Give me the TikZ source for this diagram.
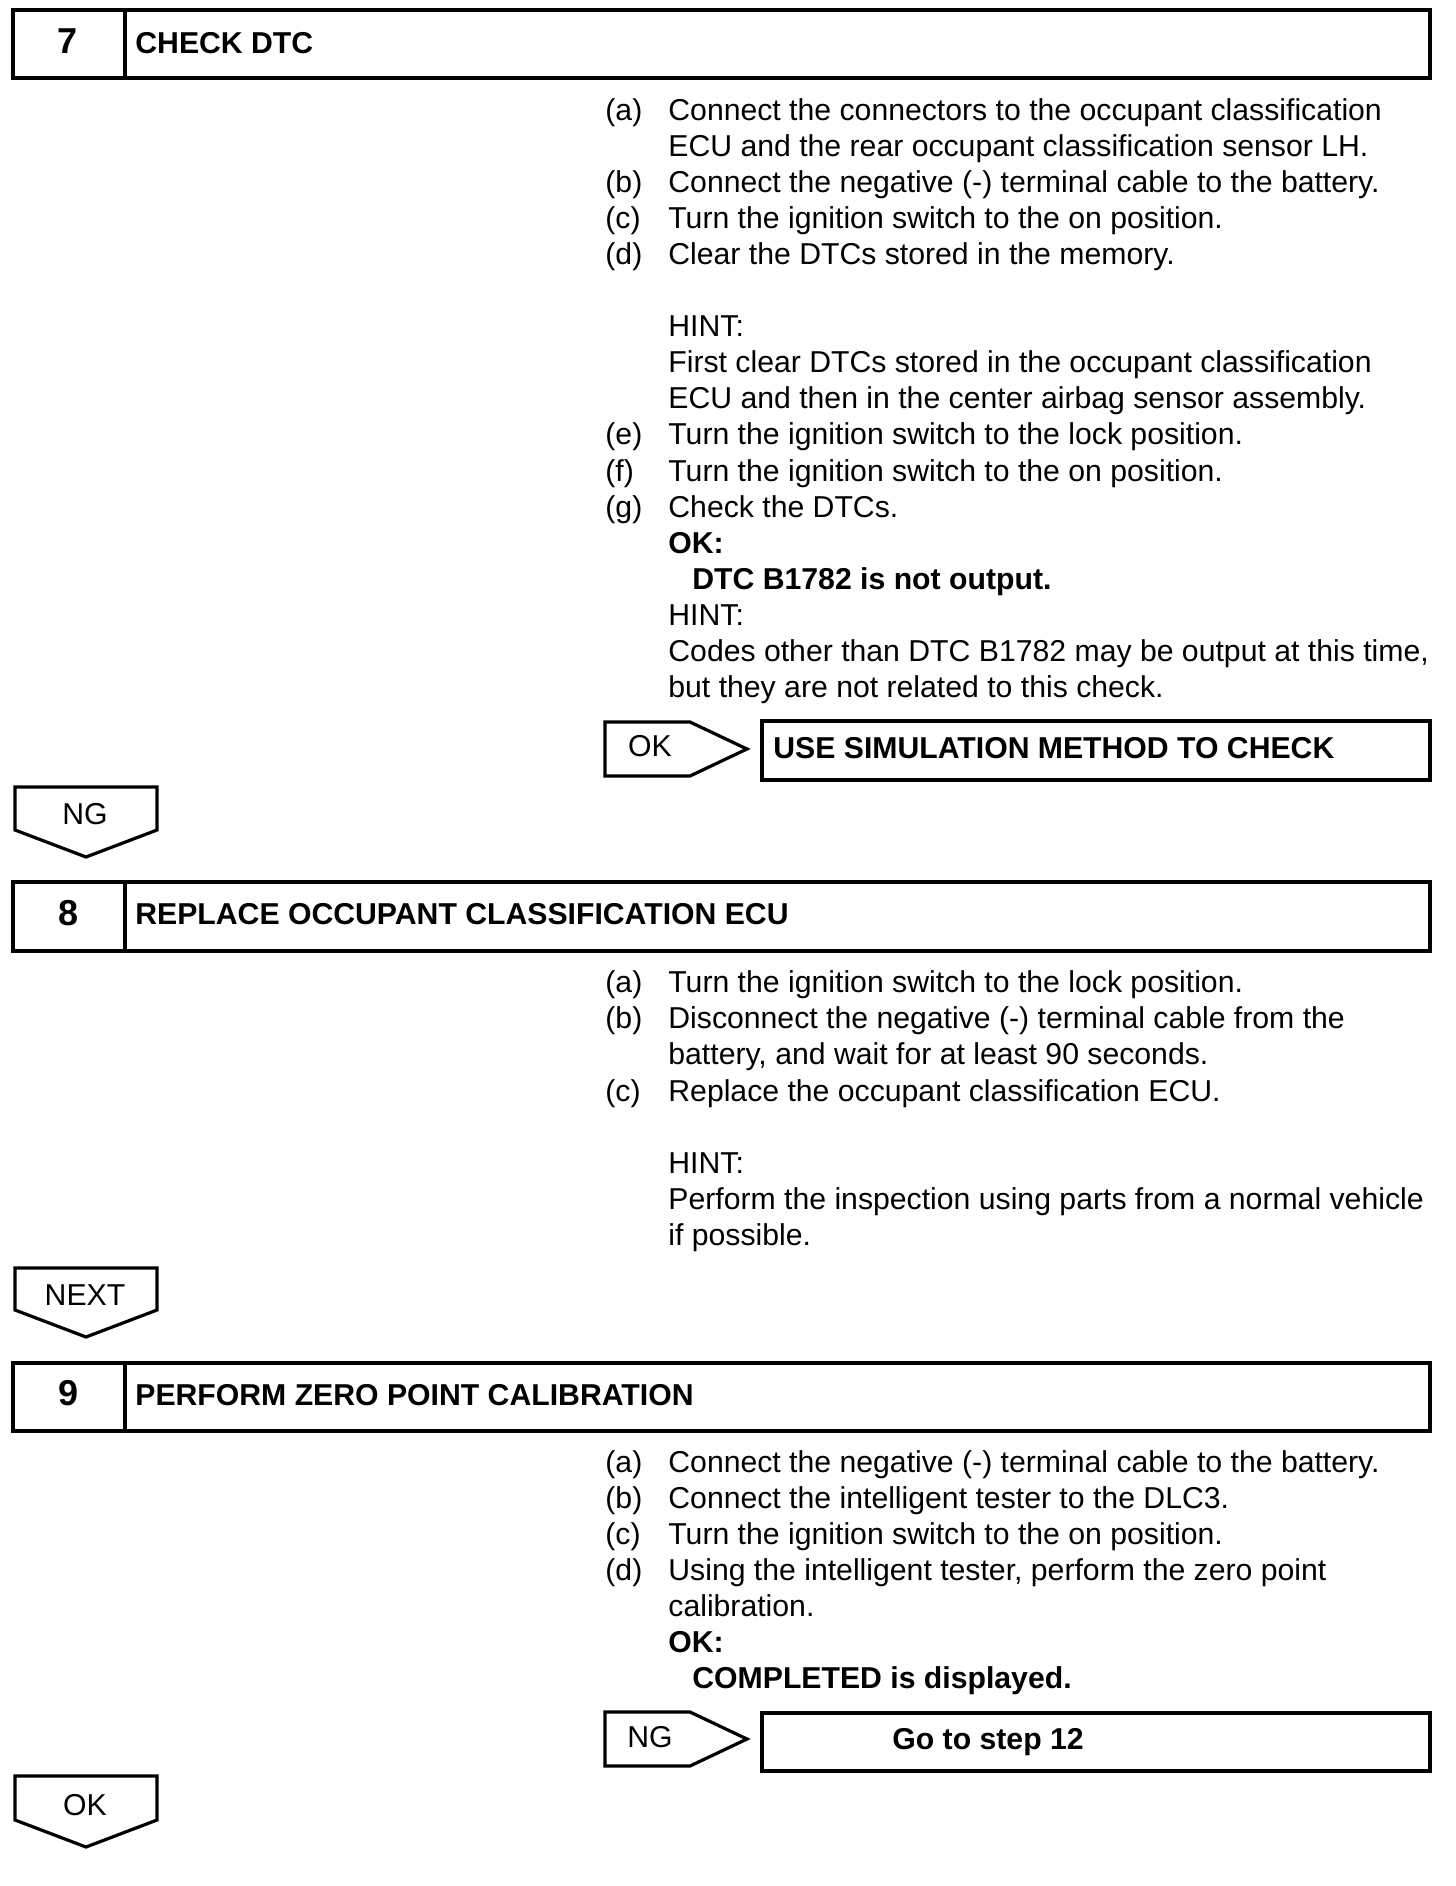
\documentclass[tikz,border=0pt]{standalone}
\usepackage{fontspec}
\setmainfont{Liberation Sans}
\begin{document}
\begin{tikzpicture}[x=0.5pt,y=-0.5pt,
  frame/.style={line width=1.8pt, line join=miter},
  pent/.style={line width=1.6pt, line join=miter},
  txt/.style={inner sep=0pt, anchor=base west, font=\fontsize{15.1}{18}\selectfont},
  btxt/.style={txt, font=\fontsize{15.1}{18}\selectfont\bfseries},
  numtxt/.style={inner sep=0pt, anchor=center, font=\fontsize{18}{21}\selectfont\bfseries},
  hdrtxt/.style={inner sep=0pt, anchor=west, font=\fontsize{15.1}{18}\selectfont\bfseries},
  pentlbl/.style={inner sep=0pt, anchor=center, font=\fontsize{15.1}{18}\selectfont}]
\useasboundingbox (0,0) rectangle (1456,1886);

% ---------------- Step 7 header
\draw[frame] (13,10) rectangle (1430,78);
\draw[frame] (125,10) -- (125,78);
\node[numtxt] (n7) at (68,41) {7};
\node[hdrtxt] (h7) at (135,43) {CHECK DTC};

% Step 7 text
\node[txt] (s7la) at (605,120) {(a)};
\node[txt] (s7a1) at (668,120) {Connect the connectors to the occupant classification};
\node[txt] (s7a2) at (668,156.1) {ECU and the rear occupant classification sensor LH.};
\node[txt] (s7lb) at (605,192.2) {(b)};
\node[txt] (s7b) at (668,192.2) {Connect the negative (-) terminal cable to the battery.};
\node[txt] (s7lc) at (605,228.3) {(c)};
\node[txt] (s7c) at (668,228.3) {Turn the ignition switch to the on position.};
\node[txt] (s7ld) at (605,264.4) {(d)};
\node[txt] (s7d) at (668,264.4) {Clear the DTCs stored in the memory.};
\node[txt] (s7h1) at (668,336.6) {HINT:};
\node[txt] (s7h2) at (668,372.7) {First clear DTCs stored in the occupant classification};
\node[txt] (s7h3) at (668,408.8) {ECU and then in the center airbag sensor assembly.};
\node[txt] (s7le) at (605,444.9) {(e)};
\node[txt] (s7e) at (668,444.9) {Turn the ignition switch to the lock position.};
\node[txt] (s7lf) at (605,481) {(f)};
\node[txt] (s7f) at (668,481) {Turn the ignition switch to the on position.};
\node[txt] (s7lg) at (605,517.1) {(g)};
\node[txt] (s7g) at (668,517.1) {Check the DTCs.};
\node[btxt] (s7ok) at (668,553.2) {OK:};
\node[btxt] (s7okt) at (692,589.3) {DTC B1782 is not output.};
\node[txt] (s7h4) at (668,625.4) {HINT:};
\node[txt] (s7h5) at (668,661.5) {Codes other than DTC B1782 may be output at this time,};
\node[txt] (s7h6) at (668,697.6) {but they are not related to this check.};

% OK -> USE SIMULATION
\draw[pent] (605,722) -- (690,722) -- (747,749) -- (690,776) -- (605,776) -- cycle;
\node[pentlbl] (ok7) at (650,746) {OK};
\draw[frame] (762,721) rectangle (1430,780);
\node[hdrtxt] (use7) at (773,748) {USE SIMULATION METHOD TO CHECK};

% NG down arrow
\draw[pent] (15,787) -- (157,787) -- (157,830) -- (86,857) -- (15,830) -- cycle;
\node[pentlbl] (ng7) at (85,814) {NG};

% ---------------- Step 8 header
\draw[frame] (13,882) rectangle (1430,951);
\draw[frame] (125,882) -- (125,951);
\node[numtxt] (n8) at (69,913) {8};
\node[hdrtxt] (h8) at (135,914.5) {REPLACE OCCUPANT CLASSIFICATION ECU};

\node[txt] (s8la) at (605,992.8) {(a)};
\node[txt] (s8a) at (668,992.8) {Turn the ignition switch to the lock position.};
\node[txt] (s8lb) at (605,1028.9) {(b)};
\node[txt] (s8b1) at (668,1028.9) {Disconnect the negative (-) terminal cable from the};
\node[txt] (s8b2) at (668,1064.9) {battery, and wait for at least 90 seconds.};
\node[txt] (s8lc) at (605,1101.0) {(c)};
\node[txt] (s8c) at (668,1101.0) {Replace the occupant classification ECU.};
\node[txt] (s8h1) at (668,1173.2) {HINT:};
\node[txt] (s8h2) at (668,1209.2) {Perform the inspection using parts from a normal vehicle};
\node[txt] (s8h3) at (668,1245.3) {if possible.};

% NEXT down arrow
\draw[pent] (15,1268) -- (157,1268) -- (157,1310) -- (86,1337) -- (15,1310) -- cycle;
\node[pentlbl] (next8) at (85,1295.5) {NEXT};

% ---------------- Step 9 header
\draw[frame] (13,1363) rectangle (1430,1431);
\draw[frame] (125,1363) -- (125,1431);
\node[numtxt] (n9) at (69,1393) {9};
\node[hdrtxt] (h9) at (135,1395) {PERFORM ZERO POINT CALIBRATION};

\node[txt] (s9la) at (605,1472.5) {(a)};
\node[txt] (s9a) at (668,1472.5) {Connect the negative (-) terminal cable to the battery.};
\node[txt] (s9lb) at (605,1508.6) {(b)};
\node[txt] (s9b) at (668,1508.6) {Connect the intelligent tester to the DLC3.};
\node[txt] (s9lc) at (605,1544.6) {(c)};
\node[txt] (s9c) at (668,1544.6) {Turn the ignition switch to the on position.};
\node[txt] (s9ld) at (605,1580.7) {(d)};
\node[txt] (s9d1) at (668,1580.7) {Using the intelligent tester, perform the zero point};
\node[txt] (s9d2) at (668,1616.8) {calibration.};
\node[btxt] (s9ok) at (668,1652.9) {OK:};
\node[btxt] (s9okt) at (692,1688.9) {COMPLETED is displayed.};

% NG -> Go to step 12
\draw[pent] (605,1712) -- (690,1712) -- (747,1739) -- (690,1766) -- (605,1766) -- cycle;
\node[pentlbl] (ng9) at (650,1737) {NG};
\draw[frame] (762,1713) rectangle (1430,1771);
\node[btxt] (go9) at (892,1749) {Go to step 12};

% OK down arrow
\draw[pent] (15,1776) -- (157,1776) -- (157,1820) -- (86,1847) -- (15,1820) -- cycle;
\node[pentlbl] (ok9) at (85,1805.5) {OK};

\end{tikzpicture}
\end{document}
